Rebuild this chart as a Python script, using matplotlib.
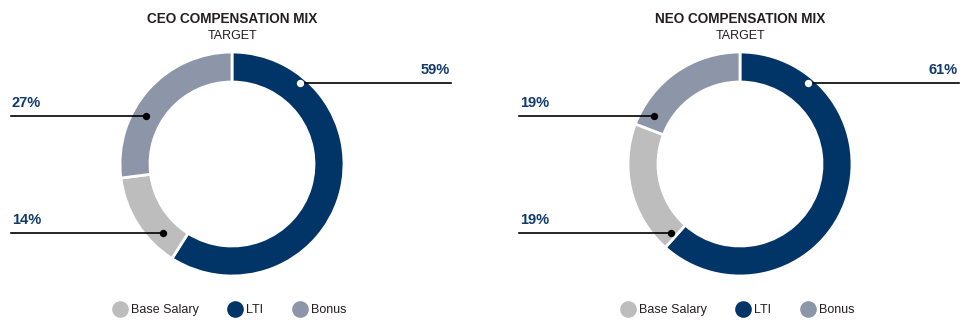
import numpy as np
import matplotlib
matplotlib.use("Agg")
import matplotlib.pyplot as plt
from matplotlib.lines import Line2D
from matplotlib.legend import Legend

# data
categories = ["LTI", "Base Salary", "Bonus"]
ceo_values = [59, 14, 27]
neo_values = [61, 19, 19]
titles = ["CEO COMPENSATION MIX", "NEO COMPENSATION MIX"]
subtitle = "TARGET"
legend_order = ["Base Salary", "LTI", "Bonus"]

colors = {"LTI": "#023567", "Base Salary": "#bdbdbd", "Bonus": "#8d96a9"}
navy = "#0f3a6b"
text_c = "#231f20"

W, H = 969, 334
fig = plt.figure(figsize=(W / 100, H / 100), dpi=100)
ax = fig.add_axes([0, 0, 1, 1])

fam = ["Liberation Sans", "DejaVu Sans"]

R = 112
ring = 30
# label layout: (dot dx, line y from top, side) per category, in pixels
label_layout = {
    "LTI": (68, 83, "right"),
    "Bonus": (-86, 116, "left"),
    "Base Salary": (-69, 233, "left"),
}


def donut(cx, values, title, leg_x):
    cy = H - 164
    ax.pie(values, colors=[colors[c] for c in categories], startangle=90,
           counterclock=False, radius=R, center=(cx, cy),
           wedgeprops=dict(width=ring, edgecolor="white", linewidth=2))
    for cat, val in zip(categories, values):
        dx, ly, side = label_layout[cat]
        y = H - ly
        dot_x = cx + dx
        if side == "right":
            x_end = cx + 219
            ax.plot([dot_x, x_end], [y, y], color="black", lw=1.2, zorder=3)
            ax.text(x_end - 1, y + 6, f"{val}%", ha="right", va="bottom",
                    color=navy, fontsize=10.5, fontweight="bold", family=fam)
            dot_c = "white"
        else:
            x_end = cx - 221
            ax.plot([x_end, dot_x], [y, y], color="black", lw=1.2, zorder=3)
            ax.text(x_end + 1, y + 6, f"{val}%", ha="left", va="bottom",
                    color=navy, fontsize=10.5, fontweight="bold", family=fam)
            dot_c = "black"
        ax.scatter([dot_x], [y], s=28, color=dot_c, zorder=4, linewidths=0)
    ax.text(cx, H - 19, title, ha="center", va="center", fontsize=9.8,
            fontweight="bold", color=text_c, family=fam)
    ax.text(cx + 1, H - 36, subtitle, ha="center", va="center", fontsize=9,
            color=text_c, family=fam)
    handles = [Line2D([], [], marker="o", ls="none", markersize=12,
                      markerfacecolor=colors[c], markeredgewidth=0)
               for c in legend_order]
    leg = Legend(ax, handles, legend_order, loc="center",
                 bbox_to_anchor=(leg_x / W, 1 - 310 / H), ncol=3,
                 frameon=False, handletextpad=0.4, columnspacing=2.4,
                 prop=dict(family=fam, size=9), handlelength=1.0)
    for t in leg.get_texts():
        t.set_color(text_c)
    ax.add_artist(leg)


donut(232, ceo_values, titles[0], 230)
donut(740, neo_values, titles[1], 738)

ax.set_xlim(0, W)
ax.set_ylim(0, H)
ax.set_aspect("auto")
ax.axis("off")

fig.savefig("out.png", dpi=100)
